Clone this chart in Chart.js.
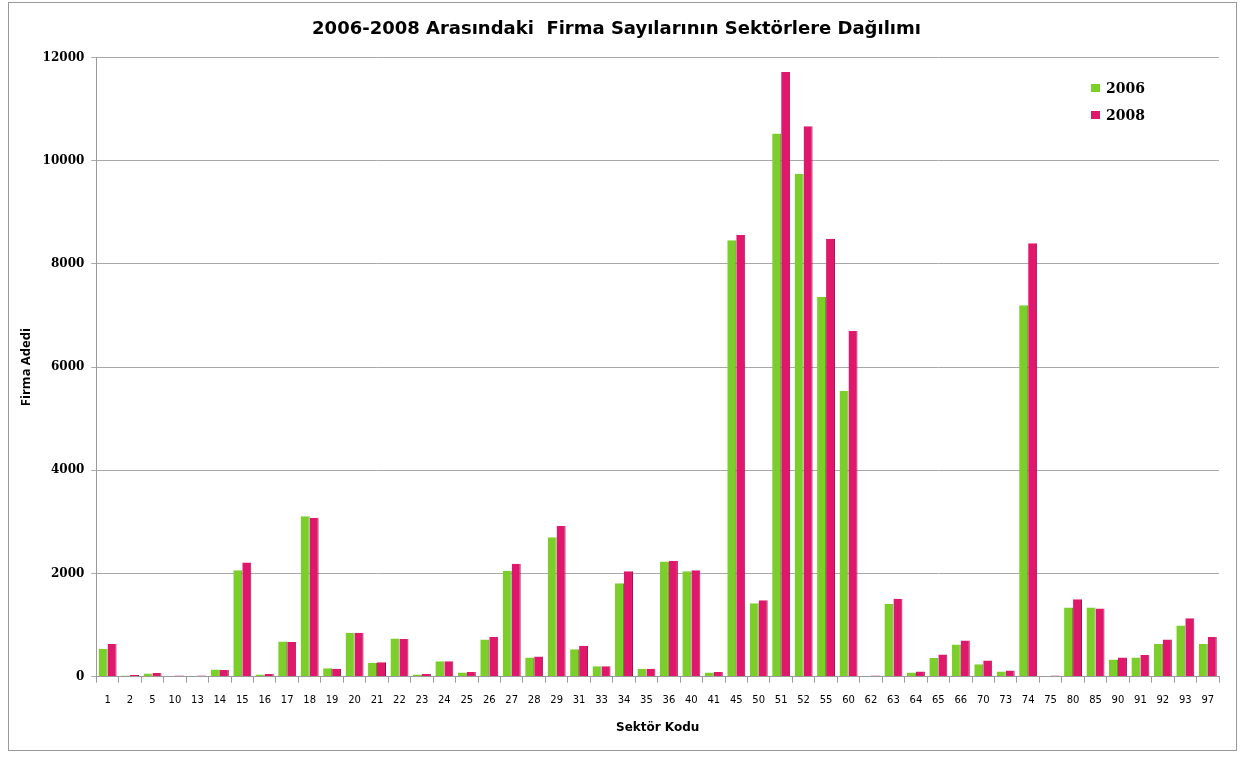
<!DOCTYPE html>
<html>
<head>
<meta charset="utf-8">
<script src="https://cdn.jsdelivr.net/npm/chart.js@4.4.1/dist/chart.umd.min.js"></script>
<style>
body{margin:0;background:#fff;}
#box{position:absolute;left:8px;top:2px;width:1227px;height:747px;border:1px solid #9a9a9a;}
</style>
</head>
<body>
<div id="box"><canvas id="chart" width="1227" height="747"></canvas></div>
<script>
let sectors = ["1","2","5","10","13","14","15","16","17","18","19","20","21","22","23","24","25","26","27","28","29","31","33","34","35","36","40","41","45","50","51","52","55","60","62","63","64","65","66","70","73","74","75","80","85","90","91","92","93","97"];
let y2006 = [540,20,60,15,15,140,2060,40,680,3110,160,850,270,740,40,300,80,720,2050,370,2700,530,200,1810,150,2230,2040,80,8460,1420,10530,9750,7360,5540,10,1410,80,360,620,240,100,7200,10,1340,1340,330,370,630,990,630];
let y2008 = [630,30,70,20,20,130,2210,50,670,3080,150,850,280,730,50,300,90,770,2190,390,2920,600,200,2040,150,2240,2060,90,8560,1480,11720,10670,8490,6700,20,1510,100,430,700,310,120,8400,20,1500,1320,370,420,720,1130,770];
let yTicks = [0,2000,4000,6000,8000,10000,12000];

// legend drawn inside the plot, top right
const boxLegend = {
id:"boxLegend",
afterDraw(chart){
let ctx = chart.ctx;
ctx.save();
ctx.font = "bold 14px 'DejaVu Serif'";
ctx.textBaseline = "middle";
chart.data.datasets.forEach(function(ds,i){
let x = 1082, y = 85 + i*27;
ctx.fillStyle = ds.backgroundColor;
ctx.fillRect(x, y-4, 9, 8);
ctx.fillStyle = "#000";
ctx.fillText(ds.label, x+15, y+1);
});
ctx.restore();
}
};

new Chart(document.getElementById("chart"),{
type:"bar",
data:{
labels:sectors,
datasets:[{
label:"2006",
data:y2006,
backgroundColor:"#7ccf2a",
borderColor:"#4f9a12",
borderWidth:{left:0,right:1,top:0,bottom:0}
},{
label:"2008",
data:y2008,
backgroundColor:"#e0186c",
borderColor:"#a8084a",
borderWidth:{left:0,right:1,top:0,bottom:0}
}]
},
options:{
responsive:false,
animation:false,
layout:{padding:{left:5,right:17,top:4,bottom:11}},
datasets:{bar:{categoryPercentage:0.8,barPercentage:1.0}},
plugins:{
legend:{display:false},
tooltip:{enabled:false},
title:{
display:true,
text:"2006-2008 Arasındaki  Firma Sayılarının Sektörlere Dağılımı",
color:"#000",
font:{family:"'DejaVu Sans'",size:18,weight:"bold"},
padding:{top:12,bottom:17}
}
},
scales:{
x:{
grid:{display:true,drawOnChartArea:false,drawTicks:true,tickLength:6,color:"#9a9a9a",offset:true},
border:{color:"#9a9a9a"},
ticks:{color:"#000",font:{family:"'DejaVu Sans'",size:10},maxRotation:0,autoSkip:false,padding:12},
title:{display:true,text:"Sektör Kodu",color:"#000",font:{family:"'DejaVu Sans'",size:12,weight:"bold"},padding:{top:2}}
},
y:{
min:0,max:12000,
afterBuildTicks:function(axis){axis.ticks = yTicks.map(function(v){return {value:v};});},
grid:{color:"#a8a8a8",tickLength:5,lineWidth:1},
border:{color:"#9a9a9a"},
ticks:{color:"#000",font:{family:"'DejaVu Serif'",size:12,weight:"bold"},padding:7,callback:function(v){return String(v);}},
title:{display:true,text:"Firma Adedi",color:"#000",font:{family:"'Liberation Sans Narrow', 'Open Sans'",size:13,weight:"bold"},padding:{bottom:2}}
}
}
},
plugins:[boxLegend]
});
</script>
</body>
</html>
